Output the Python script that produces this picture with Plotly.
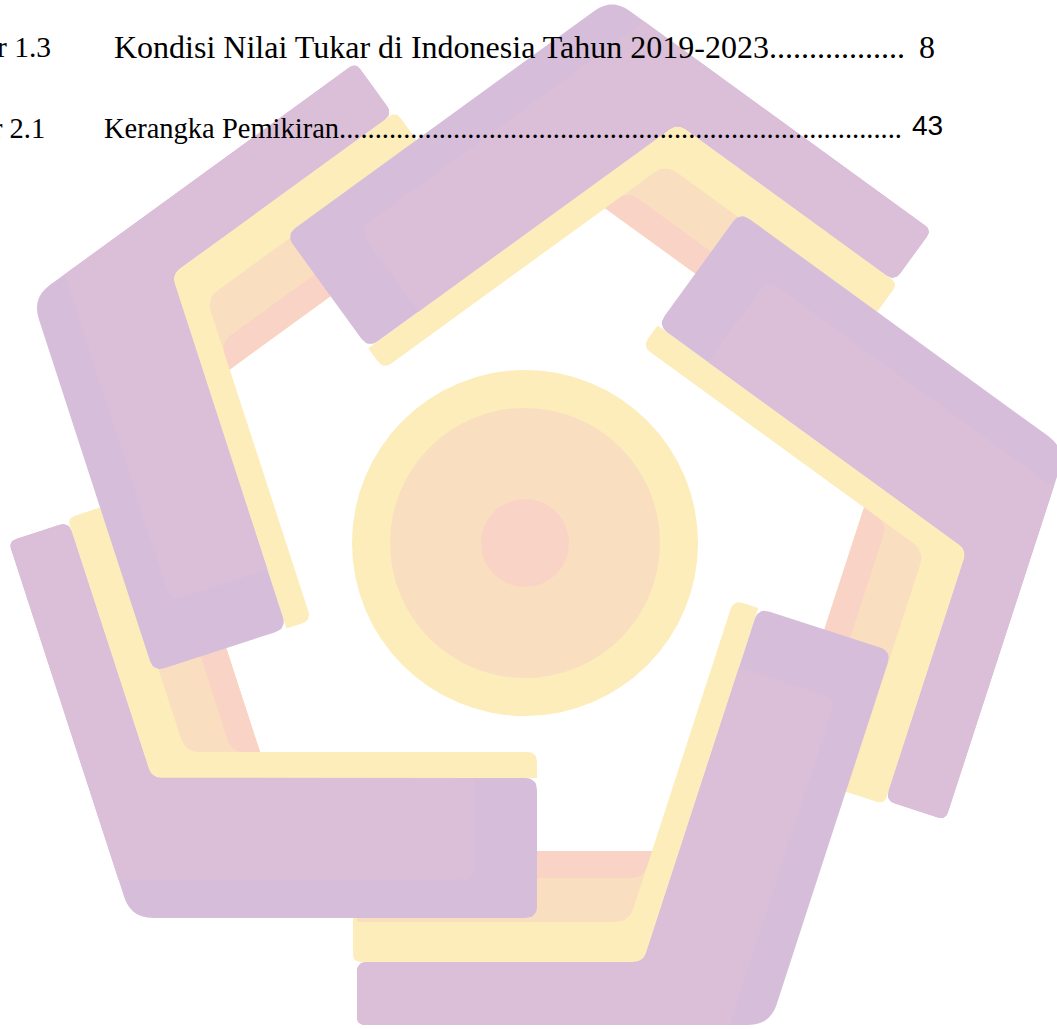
import math
import plotly.graph_objects as go

# ---------------- data ----------------
UNIT_NAMES = ["bottom", "left", "upper_left", "top", "right"]
CORNER_X = [770, 131, 32, 612, 1066]          # outer corner of each bent bar
CORNER_Y = [1025, 918, 298, -2, 449]
CW_ANGLE_DEG = [180, 252, 324, 36, 108]       # direction of the narrow (clockwise) arm
CW_ARM_LEN = [413, 396, 400, 395, 390]
CCW_ARM_LEN = [393, 406, 393, 403, 403]
CW_BAND_WIDTHS = [63, 40, 44, 27]             # purple, yellow, peach, pink
CCW_BAND_WIDTHS = [140, 26]                   # purple, yellow
LIGHT_PURPLE_INSET = [38, 62]                 # from outer edge, from arm end

RING_CENTER = [525, 543]
RING_RADII = [173, 135, 44]

LINE1_LABEL = "r 1.3"
LINE1_TITLE = "Kondisi Nilai Tukar di Indonesia Tahun 2019-2023" + "." * 17
LINE1_PAGE = "8"
LINE2_LABEL = "r 2.1"
LINE2_TITLE = "Kerangka Pemikiran" + "." * 79
LINE2_PAGE = "43"

PURPLE_DARK = "#D6BDDA"
PURPLE_LIGHT = "#DBBED8"
YELLOW = "#FCEDBB"
PEACH = "#FADEC0"
PINK = "#F9D3C5"


# ---------------- geometry helpers ----------------
def frame(i):
    c = (CORNER_X[i], CORNER_Y[i])
    a1 = math.radians(CW_ANGLE_DEG[i])
    a2 = math.radians(CW_ANGLE_DEG[i] + 108)
    d1 = (math.cos(a1), math.sin(a1))
    n1 = (-d1[1], d1[0])
    d2 = (math.cos(a2), math.sin(a2))
    n2 = (d2[1], -d2[0])
    return c, d1, n1, d2, n2


def P(fr, s, t):
    c, d1, n1, _, _ = fr
    return (c[0] + s * d1[0] + t * n1[0], c[1] + s * d1[1] + t * n1[1])


def Q(fr, s, u):
    c, _, _, d2, n2 = fr
    return (c[0] + s * d2[0] + u * n2[0], c[1] + s * d2[1] + u * n2[1])


def X(fr, t, u):
    c, d1, n1, d2, n2 = fr
    det = n1[0] * n2[1] - n1[1] * n2[0]
    vx = (n2[1] * t - n1[1] * u) / det
    vy = (-n2[0] * t + n1[0] * u) / det
    return (c[0] + vx, c[1] + vy)


def rounded(pts, radii, steps=7):
    out = []
    n = len(pts)
    for i in range(n):
        p0, p1, p2 = pts[i - 1], pts[i], pts[(i + 1) % n]
        r = radii[i]
        if r <= 0:
            out.append(p1)
            continue
        v0 = (p0[0] - p1[0], p0[1] - p1[1])
        v2 = (p2[0] - p1[0], p2[1] - p1[1])
        l0 = math.hypot(*v0)
        l2 = math.hypot(*v2)
        rr = min(r, l0 / 2, l2 / 2)
        a = (p1[0] + v0[0] / l0 * rr, p1[1] + v0[1] / l0 * rr)
        b = (p1[0] + v2[0] / l2 * rr, p1[1] + v2[1] / l2 * rr)
        for k in range(steps + 1):
            tt = k / steps
            x = (1 - tt) ** 2 * a[0] + 2 * (1 - tt) * tt * p1[0] + tt ** 2 * b[0]
            y = (1 - tt) ** 2 * a[1] + 2 * (1 - tt) * tt * p1[1] + tt ** 2 * b[1]
            out.append((x, y))
    return out


def poly_trace(pts, color, name):
    xs = [p[0] for p in pts] + [pts[0][0]]
    ys = [p[1] for p in pts] + [pts[0][1]]
    return go.Scatter(x=xs, y=ys, mode="lines", fill="toself", fillcolor=color,
                      line=dict(width=0, color=color), hoverinfo="skip",
                      showlegend=False, name=name)


fig = go.Figure()

W1, Y1, PE, PK = CW_BAND_WIDTHS
W2, Y2 = CCW_BAND_WIDTHS
a_in, e_in = LIGHT_PURPLE_INSET

# inner bands (yellow, peach, pink) of every unit first
for i, name in enumerate(UNIT_NAMES):
    fr = frame(i)
    Lcw, Lccw = CW_ARM_LEN[i], CCW_ARM_LEN[i]
    tin = W1 + Y1 + PE + PK
    yellow = [X(fr, W1, W2), Q(fr, Lccw, W2), Q(fr, Lccw, W2 + Y2),
              X(fr, tin, W2 + Y2), P(fr, Lcw + 4, tin), P(fr, Lcw + 4, W1)]
    fig.add_trace(poly_trace(rounded(yellow, [0, 0, 10, 0, 0, 8]), YELLOW, name + " yellow"))
    peach = [X(fr, W1 + Y1, W2 + Y2), X(fr, tin, W2 + Y2),
             P(fr, Lcw, tin), P(fr, Lcw, W1 + Y1)]
    fig.add_trace(poly_trace(rounded(peach, [14, 0, 0, 0]), PEACH, name + " peach"))
    pink = [X(fr, W1 + Y1 + PE, W2 + Y2), X(fr, tin, W2 + Y2),
            P(fr, Lcw, tin), P(fr, Lcw, W1 + Y1 + PE)]
    fig.add_trace(poly_trace(rounded(pink, [12, 0, 0, 0]), PINK, name + " pink"))

# purple bars on top
for i, name in enumerate(UNIT_NAMES):
    fr = frame(i)
    Lcw, Lccw = CW_ARM_LEN[i], CCW_ARM_LEN[i]
    base = [X(fr, 0, 0), Q(fr, Lccw, 0), Q(fr, Lccw, W2), X(fr, W1, W2),
            P(fr, Lcw, W1), P(fr, Lcw, 0)]
    fig.add_trace(poly_trace(rounded(base, [22, 12, 12, 10, 10, 8]), PURPLE_DARK, name + " purple"))
    light = [X(fr, 0, a_in), Q(fr, Lccw - e_in, a_in), Q(fr, Lccw - e_in, W2),
             X(fr, W1, W2), P(fr, Lcw, W1), P(fr, Lcw, 0)]
    fig.add_trace(poly_trace(rounded(light, [0, 14, 0, 10, 10, 8]), PURPLE_LIGHT, name + " purple light"))

# central rings
shapes = []
for r, col in zip(RING_RADII, [YELLOW, PEACH, PINK]):
    shapes.append(dict(type="circle", xref="x", yref="y",
                       x0=RING_CENTER[0] - r, x1=RING_CENTER[0] + r,
                       y0=RING_CENTER[1] - r, y1=RING_CENTER[1] + r,
                       fillcolor=col, line=dict(width=0), layer="below"))

serif = "Liberation Serif, Times New Roman, serif"
ann = []
ann.append(dict(x=52, y=47, text=LINE1_LABEL, xanchor="right", yanchor="middle",
                font=dict(family=serif, size=29.5, color="#000")))
ann.append(dict(x=113, y=47, text=LINE1_TITLE, xanchor="left", yanchor="middle",
                font=dict(family=serif, size=32, color="#000")))
ann.append(dict(x=936, y=47, text=LINE1_PAGE, xanchor="right", yanchor="middle",
                font=dict(family=serif, size=32, color="#000")))
ann.append(dict(x=46, y=128, text=LINE2_LABEL, xanchor="right", yanchor="middle",
                font=dict(family=serif, size=28.5, color="#000")))
ann.append(dict(x=103, y=128, text=LINE2_TITLE, xanchor="left", yanchor="middle",
                font=dict(family=serif, size=28.5, color="#000")))
ann.append(dict(x=944, y=125, text=LINE2_PAGE, xanchor="right", yanchor="middle",
                font=dict(family="Liberation Sans, Arial, sans-serif", size=28, color="#000")))
for a in ann:
    a.update(xref="x", yref="y", showarrow=False, borderpad=0)

fig.update_layout(
    width=1057, height=1029,
    margin=dict(l=0, r=0, t=0, b=0),
    paper_bgcolor="white", plot_bgcolor="white",
    xaxis=dict(range=[0, 1057], visible=False, fixedrange=True),
    yaxis=dict(range=[1029, 0], visible=False, fixedrange=True),
    shapes=shapes, annotations=ann, showlegend=False,
)

fig.write_html(
    "out.html",
    config={"displayModeBar": False},
    post_script="document.body.style.margin='0px';"
                "document.body.style.padding='0px';"
                "document.documentElement.style.overflow='hidden';",
)
